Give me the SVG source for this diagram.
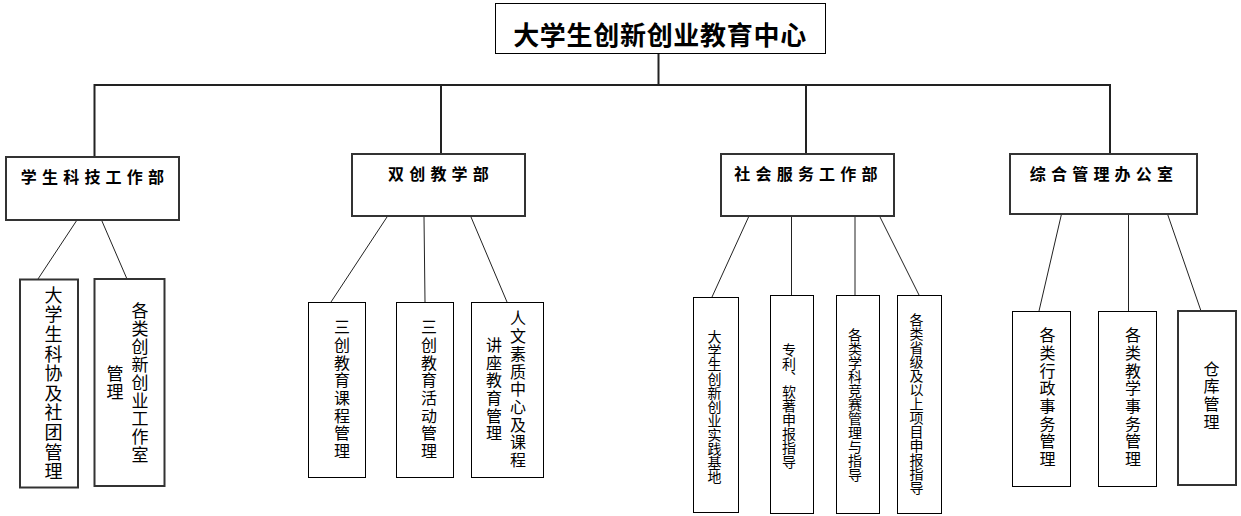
<svg xmlns="http://www.w3.org/2000/svg" width="1241" height="516" viewBox="0 0 1241 516">
<style>
.bg{fill:#ffffff}
.box{fill:#ffffff;stroke:#000;stroke-width:1}
.box2{fill:#ffffff;stroke:#333;stroke-width:2}
.main{stroke:#222;stroke-width:2;fill:none}
.thin{stroke:#222;stroke-width:1;fill:none}
.t0{font-family:"Noto Sans CJK SC","Liberation Sans",sans-serif;font-size:26px;font-weight:bold;fill:#000;text-anchor:middle;letter-spacing:0.7px}
.t1{font-family:"Noto Sans CJK SC","Liberation Sans",sans-serif;font-size:16px;font-weight:bold;fill:#000;text-anchor:middle;letter-spacing:5.2px}
.v{font-family:"Noto Sans CJK SC","Liberation Sans",sans-serif;font-size:16px;fill:#000;text-anchor:middle;writing-mode:vertical-rl;letter-spacing:1.7px}
.vs{font-family:"Noto Sans CJK SC","Liberation Sans",sans-serif;font-size:14px;fill:#000;text-anchor:middle;writing-mode:vertical-rl;letter-spacing:0px}
</style>
<rect class="bg" x="0" y="0" width="1241" height="516"/>
<g id="connectors">
<path class="main" d="M658.5 53 V85"/>
<path class="main" d="M94.5 157 V85 H1110 V154"/>
<path class="main" d="M441 85 V154"/>
<path class="main" d="M806 85 V154"/>
<path class="thin" d="M77 220 L38 279"/>
<path class="thin" d="M101.5 220 L127 279"/>
<path class="thin" d="M387 217 L331 302"/>
<path class="thin" d="M424 217 L425 302"/>
<path class="thin" d="M471 217 L507 302"/>
<path class="thin" d="M749 216 L712 297"/>
<path class="thin" d="M791.5 216 V295"/>
<path class="thin" d="M855 216 V295"/>
<path class="thin" d="M879.5 216 L919 295"/>
<path class="thin" d="M1061.5 214 L1039 311"/>
<path class="thin" d="M1128.5 214 V311"/>
<path class="thin" d="M1167.5 214 L1201 311"/>
</g>
<g id="root">
<rect class="box" x="495.5" y="3.5" width="330" height="50"/>
<text class="t0" x="660" y="44.5">大学生创新创业教育中心</text>
</g>
<g id="dept1">
<rect class="box2" x="6" y="157" width="173" height="63"/>
<text class="t1" x="95" y="182.5">学生科技工作部</text>
</g>
<g id="dept2">
<rect class="box2" x="352" y="154" width="173" height="62"/>
<text class="t1" x="441" y="180">双创教学部</text>
</g>
<g id="dept3">
<rect class="box2" x="721" y="154" width="173" height="62"/>
<text class="t1" x="808.5" y="180">社会服务工作部</text>
</g>
<g id="dept4">
<rect class="box2" x="1010" y="154" width="187" height="60"/>
<text class="t1" x="1104" y="180">综合管理办公室</text>
</g>
<g id="n_a">
<rect class="box2" x="20" y="279.5" width="58" height="208"/>
<text class="v" x="53.5" y="384" style="font-size:18px;letter-spacing:1.6px">大学生科协及社团管理</text>
</g>
<g id="n_b">
<rect class="box2" x="94.5" y="279" width="70" height="207"/>
<text class="v" x="140" y="383" style="font-size:17px;letter-spacing:1px">各类创新创业工作室</text>
<text class="v" x="115" y="383" style="font-size:17px;letter-spacing:1px">管理</text>
</g>
<g id="n_c">
<rect class="box" x="308.5" y="302.5" width="57" height="175"/>
<text class="v" x="342" y="390">三创教育课程管理</text>
</g>
<g id="n_d">
<rect class="box" x="396.5" y="302.5" width="57" height="175"/>
<text class="v" x="429" y="390">三创教育活动管理</text>
</g>
<g id="n_e">
<rect class="box" x="471.5" y="302.5" width="72" height="175"/>
<text class="v" x="518" y="390">人文素质中心及课程</text>
<text class="v" x="494" y="390">讲座教育管理</text>
</g>
<g id="n_f">
<rect class="box" x="693.5" y="297.5" width="45" height="215"/>
<text class="vs" x="714.5" y="407">大学生创新创业实践基地</text>
</g>
<g id="n_g">
<rect class="box" x="770.5" y="295.5" width="43" height="218"/>
<text class="vs" x="789" y="406">专利、软著申报指导</text>
</g>
<g id="n_h">
<rect class="box" x="836.5" y="295.5" width="43" height="218"/>
<text class="vs" x="855" y="405">各类学科竞赛管理与指导</text>
</g>
<g id="n_i">
<rect class="box" x="897.5" y="295.5" width="44" height="218"/>
<text class="vs" x="916.5" y="404">各类省级及以上项目申报指导</text>
</g>
<g id="n_j">
<rect class="box" x="1012.5" y="311.5" width="58" height="175"/>
<text class="v" x="1047.5" y="398">各类行政事务管理</text>
</g>
<g id="n_k">
<rect class="box" x="1098.5" y="311.5" width="58" height="175"/>
<text class="v" x="1133" y="398">各类教学事务管理</text>
</g>
<g id="n_l">
<rect class="box2" x="1178" y="311" width="58" height="174"/>
<text class="v" x="1211.5" y="396">仓库管理</text>
</g>
</svg>
